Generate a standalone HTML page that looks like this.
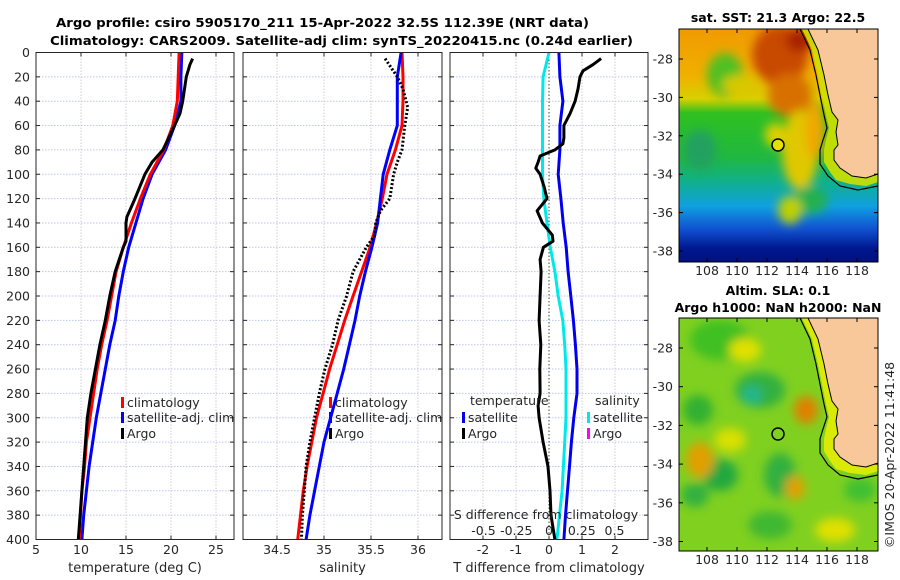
<!DOCTYPE html>
<html><head><meta charset="utf-8"><style>
html,body{margin:0;padding:0;background:#fff;}
svg{display:block;font-family:"DejaVu Sans","Liberation Sans",sans-serif;}
</style></head><body>
<svg id="fig" width="900" height="580" viewBox="0 0 900 580">
<defs>
<filter id="bl" x="-20%" y="-20%" width="140%" height="140%"><feGaussianBlur stdDeviation="5"/></filter>
<clipPath id="cTop"><rect x="679" y="29" width="199" height="233"/></clipPath>
<clipPath id="cBot"><rect x="679" y="318" width="199" height="233"/></clipPath>
<linearGradient id="sstg" x1="0" y1="0" x2="0" y2="1">
<stop offset="0" stop-color="#f09a00"/><stop offset="0.2" stop-color="#f0b000"/>
<stop offset="0.3" stop-color="#d8d000"/><stop offset="0.36" stop-color="#30c020"/>
<stop offset="0.55" stop-color="#20b840"/><stop offset="0.66" stop-color="#10b090"/>
<stop offset="0.76" stop-color="#10a0e0"/><stop offset="0.86" stop-color="#1050d0"/>
<stop offset="0.94" stop-color="#001890"/><stop offset="1" stop-color="#001080"/>
</linearGradient>
</defs>
<g font-weight="bold" font-size="12.5" fill="#000">
<text x="56" y="27" textLength="533" lengthAdjust="spacingAndGlyphs">Argo profile: csiro 5905170_211 15-Apr-2022 32.5S 112.39E (NRT data)</text>
<text x="50" y="45" textLength="583" lengthAdjust="spacingAndGlyphs">Climatology: CARS2009. Satellite-adj clim: synTS_20220415.nc (0.24d earlier)</text>
</g>
<g id="panels"></g>

<g>
<g clip-path="url(#cTop)">
<rect x="679" y="29" width="199" height="233" fill="url(#sstg)"/>
<g filter="url(#bl)">
<ellipse cx="780" cy="55" rx="28" ry="30" fill="#c84a00"/>
<ellipse cx="800" cy="40" rx="14" ry="12" fill="#a82000"/>
<ellipse cx="790" cy="95" rx="22" ry="22" fill="#d87000"/>
<ellipse cx="725" cy="75" rx="18" ry="22" fill="#50c020"/>
<ellipse cx="740" cy="85" rx="18" ry="10" fill="#d8c800"/>
<ellipse cx="800" cy="150" rx="18" ry="40" fill="#e0c800"/>
<ellipse cx="815" cy="130" rx="10" ry="30" fill="#f0a800"/>
<ellipse cx="775" cy="135" rx="10" ry="12" fill="#e0d000"/>
<ellipse cx="810" cy="200" rx="18" ry="14" fill="#20b050"/>
<ellipse cx="790" cy="210" rx="12" ry="14" fill="#c0d000"/>
<ellipse cx="700" cy="150" rx="16" ry="20" fill="#20a060"/>
</g>
<path d="M802,29 L812,50 L818,75 L822,95 L826,115 L829,128 L826,140 L824,150 L824,162 L830,172 L836,180 L850,184 L866,186 L878,182 L878,29 Z" fill="#cfe000" opacity="0.9"/>
<path d="M808,29 L818,50 L824,75 L828,95 L832,112 L838,120 L836,132 L838,145 L834,150 L834,160 L840,168 L852,176 L866,178 L878,174 L878,29 Z" fill="#f8c89a"/>
<path d="M800,29 L810,50 L816,75 L820,95 L824,115 L827,128 L823,140 L820,150 L820,164 L828,176 L840,186 L858,190 L878,186" fill="none" stroke="#000" stroke-width="1.2"/>
<path d="M808,29 L818,50 L824,75 L828,95 L832,112 L838,120 L836,132 L838,145 L834,150 L834,160 L840,168 L852,176 L866,178 L878,174" fill="none" stroke="#000" stroke-width="1"/>
</g>
<rect x="679" y="29" width="199" height="233" fill="none" stroke="#000" stroke-width="1"/>
<circle cx="778" cy="145" r="6" fill="#e8e000" stroke="#000" stroke-width="1.5"/>
</g>
<text x="778" y="22" font-weight="bold" font-size="12.5" text-anchor="middle">sat. SST: 21.3 Argo: 22.5</text>

<g>
<g clip-path="url(#cBot)">
<rect x="679" y="318" width="199" height="233" fill="#80d020"/>
<g filter="url(#bl)">
<ellipse cx="720" cy="340" rx="30" ry="20" fill="#40c020"/>
<ellipse cx="760" cy="390" rx="25" ry="18" fill="#30b040"/>
<ellipse cx="752" cy="395" rx="10" ry="9" fill="#20b890"/>
<ellipse cx="698" cy="410" rx="15" ry="15" fill="#30b030"/>
<ellipse cx="720" cy="475" rx="18" ry="16" fill="#20a840"/>
<ellipse cx="780" cy="475" rx="16" ry="22" fill="#30b040"/>
<ellipse cx="695" cy="495" rx="14" ry="12" fill="#30b040"/>
<ellipse cx="770" cy="525" rx="22" ry="14" fill="#40b830"/>
<ellipse cx="730" cy="440" rx="16" ry="12" fill="#d8e000"/>
<ellipse cx="700" cy="460" rx="14" ry="18" fill="#e0a000"/>
<ellipse cx="806" cy="410" rx="12" ry="14" fill="#e08000"/>
<ellipse cx="795" cy="488" rx="10" ry="12" fill="#e0a000"/>
<ellipse cx="835" cy="530" rx="20" ry="12" fill="#e0e000"/>
<ellipse cx="860" cy="490" rx="16" ry="12" fill="#40c030"/>
<ellipse cx="745" cy="350" rx="16" ry="12" fill="#e0e000"/>
</g>
<path d="M802,318 L812,339 L818,364 L822,384 L826,404 L829,417 L826,429 L824,439 L824,451 L830,461 L836,469 L850,473 L866,475 L878,471 L878,318 Z" fill="#f0f000" opacity="0.8"/>
<path d="M808,318 L818,339 L824,364 L828,384 L832,401 L838,409 L836,421 L838,434 L834,439 L834,449 L840,457 L852,465 L866,467 L878,463 L878,318 Z" fill="#f8c89a"/>
<path d="M800,318 L810,339 L816,364 L820,384 L824,404 L827,417 L823,429 L820,439 L820,453 L828,465 L840,475 L858,479 L878,475" fill="none" stroke="#000" stroke-width="1.2"/>
<path d="M808,318 L818,339 L824,364 L828,384 L832,401 L838,409 L836,421 L838,434 L834,439 L834,449 L840,457 L852,465 L866,467 L878,463" fill="none" stroke="#000" stroke-width="1"/>
</g>
<rect x="679" y="318" width="199" height="233" fill="none" stroke="#000" stroke-width="1"/>
<circle cx="778" cy="434" r="6" fill="none" stroke="#000" stroke-width="1.5"/>
</g>
<g font-weight="bold" font-size="12.5" text-anchor="middle">
<text x="778" y="295">Altim. SLA: 0.1</text>
<text x="778" y="312">Argo h1000: NaN h2000: NaN</text>
</g>
<text transform="translate(894,455) rotate(-90)" font-size="12.5" text-anchor="middle" fill="#262626">©IMOS 20-Apr-2022 11:41:48</text>
<g id="mapticks"></g>
</svg>
<script>
const depthsT = [0,20,40,60,80,100,120,140,160,180,200,220,240,260,280,300,320,340,360,380,400];
const climT = [20.9,20.8,20.7,20.2,19.2,17.7,16.6,15.6,14.7,13.9,13.4,12.9,12.3,11.8,11.4,11.0,10.6,10.4,10.1,9.95,9.8];
const satT = [21.2,21.1,21.1,20.4,19.4,17.9,16.9,16.1,15.3,14.7,14.2,13.8,13.2,12.7,12.2,11.7,11.3,10.9,10.6,10.3,10.1];
const argoDepths = [5,10,20,40,50,60,80,90,100,120,135,140,155,160,180,200,220,240,260,280,300,320,340,360,380,400];
const argoT = [22.4,22.1,21.7,21.3,21.0,20.4,19.1,17.9,17.1,16.0,15.1,15.0,15.0,14.7,13.8,13.2,12.7,12.1,11.6,11.1,10.7,10.5,10.3,10.1,9.9,9.7];
const climS = [35.83,35.84,35.84,35.83,35.76,35.67,35.62,35.56,35.49,35.40,35.31,35.22,35.14,35.06,34.99,34.92,34.87,34.82,34.78,34.75,34.72];
const satS = [35.82,35.78,35.78,35.78,35.70,35.63,35.60,35.57,35.51,35.44,35.38,35.33,35.27,35.21,35.14,35.07,35.00,34.95,34.90,34.85,34.81];
const argoSDepths = [5,20,30,45,60,80,90,100,120,130,140,150,160,180,200,220,240,260,280,300,320,340,360,380,400];
const argoS = [35.65,35.78,35.84,35.89,35.86,35.83,35.78,35.74,35.70,35.60,35.55,35.54,35.45,35.31,35.24,35.15,35.09,35.01,34.95,34.90,34.85,34.81,34.79,34.77,34.76];
const satDiffT = [0.3,0.33,0.42,0.33,0.33,0.28,0.36,0.43,0.52,0.58,0.66,0.74,0.8,0.85,0.85,0.75,0.68,0.62,0.56,0.5,0.45];
const satDiffS = [0,-0.045,-0.05,-0.05,-0.05,-0.05,-0.04,-0.015,0.01,0.045,0.07,0.105,0.12,0.13,0.13,0.13,0.12,0.11,0.10,0.08,0.06];
const argoDiffDepths = [5,10,15,20,30,40,50,60,70,75,80,85,90,95,100,110,120,130,140,150,155,160,170,180,200,220,240,260,280,290,300,320,340,360,380,400];
const argoDiffT = [1.58,1.33,1.03,0.94,0.88,0.79,0.64,0.45,0.45,0.42,0.18,-0.27,-0.33,-0.4,-0.27,-0.15,-0.06,-0.36,-0.2,0.1,0.12,-0.17,-0.27,-0.24,-0.27,-0.3,-0.25,-0.28,-0.27,-0.33,-0.3,-0.18,-0.03,0.03,0.06,0.18];
const depthTicks = [0,20,40,60,80,100,120,140,160,180,200,220,240,260,280,300,320,340,360,380,400];
const tempTicks = [5,10,15,20,25];
const salTicks = [34.5,35,35.5,36];
const tdiffTicks = [-2,-1,0,1,2];
const sdiffTickLabels = ["-0.5","-0.25","0","0.25","0.5"];
const sdiffTicks = [-0.5,-0.25,0,0.25,0.5];
const lonTicks = [108,110,112,114,116,118];
const latTicks = [-28,-30,-32,-34,-36,-38];

const NS="http://www.w3.org/2000/svg";
const root=document.getElementById('panels');
function mk(tag,attrs,parent){const e=document.createElementNS(NS,tag);for(const k in attrs)e.setAttribute(k,attrs[k]);(parent||root).appendChild(e);return e;}
const Y0=52.5, YK=487/400;
const yD=d=>Y0+d*YK;
const TOP=52.5, BOT=539.5;
const panels=[
 {x0:36,x1:234,sx:v=>36+(v-5)*9,ticks:tempTicks,label:"temperature (deg C)",name:"temperature-panel"},
 {x0:243,x1:442,sx:v=>324+(v-35)*94,ticks:salTicks,label:"salinity",name:"salinity-panel"},
 {x0:450,x1:648,sx:v=>549+v*33,ticks:tdiffTicks,label:"T difference from climatology",name:"difference-panel"}
];
const sxS=v=>549+v*131;
panels.forEach((p,pi)=>{
  const g=mk('g',{});
  
  
  depthTicks.forEach(d=>{
    if(d>0&&d<400) mk('line',{x1:p.x0,x2:p.x1,y1:yD(d),y2:yD(d),stroke:'#bfc6e6','stroke-width':1,'stroke-dasharray':'1.5,1.5'},g);
    mk('line',{x1:p.x0,x2:p.x0+4,y1:yD(d),y2:yD(d),stroke:'#262626'},g);
    mk('line',{x1:p.x1,x2:p.x1-4,y1:yD(d),y2:yD(d),stroke:'#262626'},g);
    if(pi===0){const t=mk('text',{x:30,y:yD(d)+4.5,'font-size':12.5,'text-anchor':'end',fill:'#262626'},g);t.textContent=d;
      
      }
  });
  p.ticks.forEach(v=>{
    const x=p.sx(v);
    if(!(pi===2&&v===0)) mk('line',{x1:x,x2:x,y1:TOP,y2:BOT,stroke:'#d8c8d8','stroke-width':1,'stroke-dasharray':'1.5,1.5'},g);
    mk('line',{x1:x,x2:x,y1:BOT,y2:BOT-4,stroke:'#262626'},g);
    mk('line',{x1:x,x2:x,y1:TOP,y2:TOP+4,stroke:'#262626'},g);
    const t=mk('text',{x:x,y:554,'font-size':12.5,'text-anchor':'middle',fill:'#262626'},g);t.textContent=v;
    
    
  });
  if(pi===2) mk('line',{x1:549,x2:549,y1:TOP,y2:BOT,stroke:'#3a4a2a','stroke-width':1,'stroke-dasharray':'1.5,2'},g);
  const xl=mk('text',{x:(p.x0+p.x1)/2,y:572,'font-size':13,'text-anchor':'middle',fill:'#262626'},g);xl.textContent=p.label;
  
  
});
function line(depths,vals,sx,color,name,extra){
  const pts=vals.map((v,i)=>sx(v).toFixed(1)+','+yD(depths[i]).toFixed(1)).join(' ');
  const a={points:pts,fill:'none',stroke:color,'stroke-width':3,'stroke-linejoin':'round'};
  if(extra)Object.assign(a,extra);
  const e=mk('polyline',a);
  
  
}
const sT=panels[0].sx, sS=panels[1].sx, sD=panels[2].sx;
line(depthsT,satT,sT,'#0000ff','sat-temperature-line');
line(depthsT,climT,sT,'#ff0000','clim-temperature-line');
line(argoDepths,argoT,sT,'#000','argo-temperature-line');
line(depthsT,climS,sS,'#ff0000','clim-salinity-line');
line(depthsT,satS,sS,'#0000ff','sat-salinity-line');
line(argoSDepths,argoS,sS,'#000','argo-salinity-line',{'stroke-dasharray':'2,2'});
line(depthsT,satDiffS,sxS,'#00e8e8','sat-salinity-diff-line');
line(depthsT,satDiffT,sD,'#0000ee','sat-temperature-diff-line');
line(argoDiffDepths,argoDiffT,sD,'#000','argo-temperature-diff-line');
panels.forEach(p=>mk('rect',{x:p.x0,y:TOP,width:p.x1-p.x0,height:BOT-TOP,fill:'none',stroke:'#262626','stroke-width':1}));
function legend(x,y,color,label,name){
  const g=mk('g',{});
  
  
  mk('rect',{x:x,y:y-10,width:3,height:11,fill:color},g);
  const t=mk('text',{x:x+6,y:y,'font-size':12.5,fill:'#262626'},g);t.textContent=label;
}
legend(121,407,'#ff0000','climatology','legend-climatology');
legend(121,422,'#0000ff','satellite-adj. clim','legend-satellite-adj');
legend(121,438,'#000','Argo','legend-argo');
legend(329,407,'#ff0000','climatology','legend-climatology-s');
legend(329,422,'#0000ff','satellite-adj. clim','legend-satellite-adj-s');
legend(329,438,'#000','Argo','legend-argo-s');
{const t=mk('text',{x:470,y:405,'font-size':12.5,fill:'#262626'});t.textContent='temperature';
 
 
 const t2=mk('text',{x:595,y:405,'font-size':12.5,fill:'#262626'});t2.textContent='salinity';
 
 }
legend(462,422,'#0000ee','satellite','legend-t-satellite');
legend(462,438,'#000','Argo','legend-t-argo');
legend(587,422,'#00e8e8','satellite','legend-s-satellite');
legend(587,438,'#ff00ff','Argo','legend-s-argo');
{const t=mk('text',{x:546,y:519,'font-size':12.5,'text-anchor':'middle',fill:'#262626'});t.textContent='S difference from climatology';
 
 
 sdiffTicks.forEach((v,i)=>{const l=mk('text',{x:sxS(v),y:535,'font-size':12.5,'text-anchor':'middle',fill:'#262626'});l.textContent=sdiffTickLabels[i];
  
  });}
const mt=document.getElementById('mapticks');
[[29,262,59,19.2,275],[318,551,348,19.35,564]].forEach(m=>{
  const [yt,yb,y28,k,ly]=m;
  lonTicks.forEach(lo=>{const x=707+(lo-108)*15;
    mk('line',{x1:x,x2:x,y1:yb,y2:yb-4,stroke:'#000'},mt);mk('line',{x1:x,x2:x,y1:yt,y2:yt+4,stroke:'#000'},mt);
    const t=mk('text',{x:x,y:ly,'font-size':12.5,'text-anchor':'middle',fill:'#262626'},mt);t.textContent=lo;
    
    });
  latTicks.forEach(la=>{const y=y28+(-28-la)*k;
    mk('line',{x1:679,x2:683,y1:y,y2:y,stroke:'#000'},mt);mk('line',{x1:878,x2:874,y1:y,y2:y,stroke:'#000'},mt);
    const t=mk('text',{x:673,y:y+4.5,'font-size':12.5,'text-anchor':'end',fill:'#262626'},mt);t.textContent=la;
    
    });
});
</script>
</body></html>
